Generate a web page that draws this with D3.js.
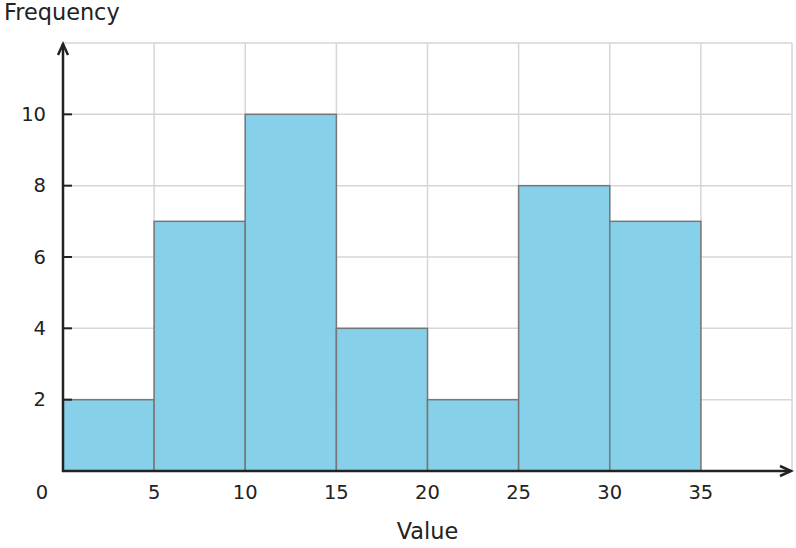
<!DOCTYPE html>
<html><head><meta charset="utf-8">
<script src="https://cdn.jsdelivr.net/npm/d3@7"></script>
<style>body{margin:0;background:#fff}svg{display:block;font-family:"DejaVu Sans",sans-serif}</style>
</head><body>
<svg id="c" width="796" height="548"></svg>
<script>
const binStarts = [0, 5, 10, 15, 20, 25, 30];
const binWidth = 5;
const frequencies = [2, 7, 10, 4, 2, 8, 7];
const xTickLabels = [5, 10, 15, 20, 25, 30, 35];
const yTickLabels = [2, 4, 6, 8, 10];
const xGrid = [5, 10, 15, 20, 25, 30, 35, 40];
const yGrid = [2, 4, 6, 8, 10, 12];

const svg = d3.select("#c");
const x = d3.scaleLinear().domain([0, 40]).range([63, 792]);
const y = d3.scaleLinear().domain([0, 12]).range([471, 43]);

const g = svg.append("g");
// grid
g.selectAll(".vg").data(xGrid).join("line")
  .attr("x1", d => x(d)).attr("x2", d => x(d)).attr("y1", y(0)).attr("y2", y(12))
  .attr("stroke", "#d6d6d6").attr("stroke-width", 1.5);
g.selectAll(".hg").data(yGrid).join("line")
  .attr("x1", x(0)).attr("x2", x(40)).attr("y1", d => y(d)).attr("y2", d => y(d))
  .attr("stroke", "#d6d6d6").attr("stroke-width", 1.5);

// bars
g.selectAll(".bar").data(binStarts).join("rect")
  .attr("x", d => x(d)).attr("width", d => x(d + binWidth) - x(d))
  .attr("y", (d, i) => y(frequencies[i])).attr("height", (d, i) => y(0) - y(frequencies[i]))
  .attr("fill", "#7fcde8").attr("fill-opacity", 0.95)
  .attr("stroke", "#777").attr("stroke-width", 1.5);

// y ticks (inward)
g.selectAll(".yt").data(yTickLabels).join("line")
  .attr("x1", x(0)).attr("x2", x(0) + 9).attr("y1", d => y(d)).attr("y2", d => y(d))
  .attr("stroke", "#222").attr("stroke-width", 2);
g.selectAll(".yl").data(yTickLabels).join("text")
  .attr("x", 46).attr("y", d => y(d)).attr("dy", "0.35em").attr("text-anchor", "end")
  .attr("font-size", 19.5).attr("fill", "#222").text(d => d);

// x labels
g.selectAll(".xl").data(xTickLabels).join("text")
  .attr("x", d => x(d)).attr("y", 492).attr("dy", "0.36em").attr("text-anchor", "middle")
  .attr("font-size", 19.5).attr("fill", "#222").text(d => d);
g.append("text").attr("x", 42).attr("y", 492).attr("dy", "0.36em").attr("text-anchor", "middle")
  .attr("font-size", 19.5).attr("fill", "#222").text("0");

// axes with arrows
g.append("line").attr("x1", x(0)).attr("x2", x(0)).attr("y1", y(0) + 1).attr("y2", 44)
  .attr("stroke", "#222").attr("stroke-width", 2.5);
g.append("path").attr("d", `M${x(0)-5},${55} L${x(0)},${44} L${x(0)+5},${55}`)
  .attr("fill", "none").attr("stroke", "#222").attr("stroke-width", 2.5);
g.append("line").attr("x1", x(0) - 1).attr("x2", 791).attr("y1", y(0)).attr("y2", y(0))
  .attr("stroke", "#222").attr("stroke-width", 2.5);
g.append("path").attr("d", `M${780},${y(0)-5} L${791},${y(0)} L${780},${y(0)+5}`)
  .attr("fill", "none").attr("stroke", "#222").attr("stroke-width", 2.5);

// titles
svg.append("text").attr("x", 4).attr("y", 20).attr("font-size", 22.4).attr("fill", "#222").text("Frequency");
svg.append("text").attr("x", x(20)).attr("y", 539).attr("text-anchor", "middle")
  .attr("font-size", 22.4).attr("fill", "#222").text("Value");
</script>
</body></html>
